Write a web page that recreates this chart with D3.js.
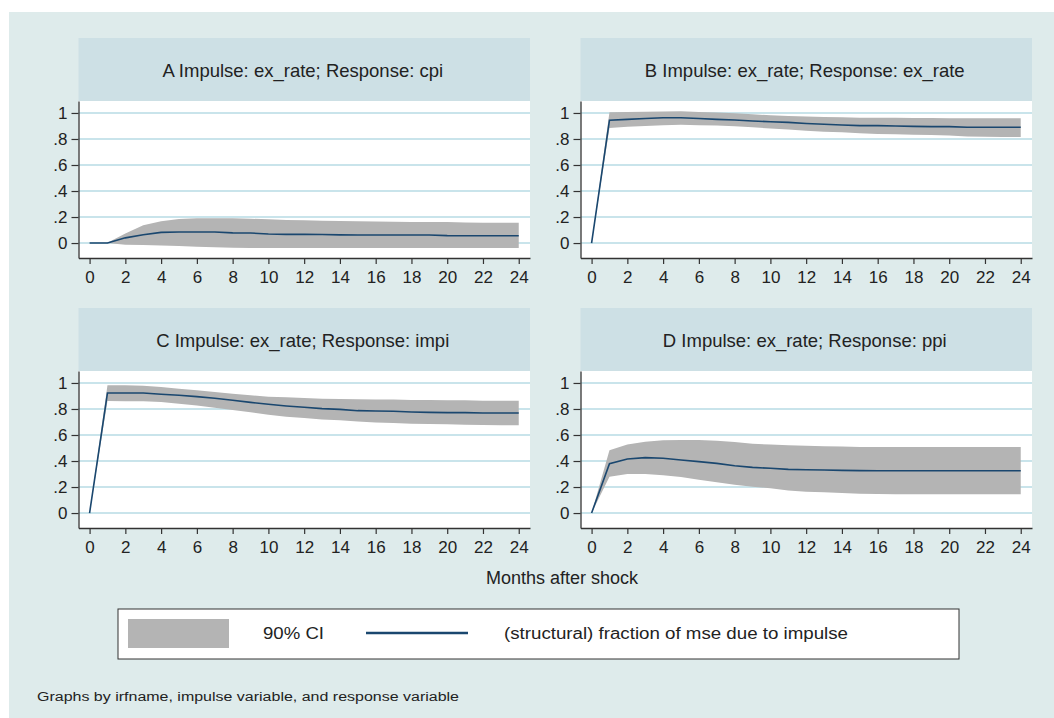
<!DOCTYPE html>
<html>
<head>
<meta charset="utf-8">
<script src="https://cdn.jsdelivr.net/npm/d3@7"></script>
<style>
  body { margin: 0; background: #fff; }
  svg { display: block; font-family: "Liberation Sans", Arial, Helvetica, sans-serif; }
</style>
</head>
<body>
<div id="chart"></div>
<script>
// Steps (months after shock)
const steps = [0, 1, 2, 3, 4, 5, 6, 7, 8, 9, 10, 11, 12, 13, 14, 15, 16, 17, 18, 19, 20, 21, 22, 23, 24];
const xTicks = [0, 2, 4, 6, 8, 10, 12, 14, 16, 18, 20, 22, 24];
const yTicks = [0, 0.2, 0.4, 0.6, 0.8, 1];
const yTickLabels = ['0', '.2', '.4', '.6', '.8', '1'];

// A: ex_rate -> cpi
const fracA = [0, 0, 0.040, 0.064, 0.082, 0.085, 0.085, 0.085, 0.078, 0.077, 0.070, 0.067, 0.067, 0.066, 0.063, 0.062, 0.062, 0.062, 0.062, 0.062, 0.057, 0.056, 0.056, 0.056, 0.056];
const hiA = [0, 0.002, 0.074, 0.136, 0.167, 0.185, 0.190, 0.190, 0.190, 0.187, 0.182, 0.178, 0.175, 0.172, 0.169, 0.167, 0.165, 0.163, 0.162, 0.162, 0.161, 0.157, 0.156, 0.156, 0.156];
const loA = [0, 0, -0.013, -0.015, -0.018, -0.023, -0.028, -0.033, -0.036, -0.038, -0.038, -0.038, -0.038, -0.038, -0.038, -0.038, -0.038, -0.038, -0.038, -0.038, -0.038, -0.038, -0.038, -0.038, -0.038];

// B: ex_rate -> ex_rate
const fracB = [0, 0.944, 0.951, 0.958, 0.963, 0.963, 0.957, 0.951, 0.946, 0.938, 0.933, 0.928, 0.919, 0.913, 0.908, 0.903, 0.903, 0.900, 0.897, 0.895, 0.895, 0.890, 0.890, 0.890, 0.890];
const hiB = [0, 1.005, 1.008, 1.010, 1.012, 1.013, 1.008, 1.003, 0.997, 0.990, 0.982, 0.977, 0.972, 0.969, 0.967, 0.964, 0.964, 0.964, 0.962, 0.962, 0.959, 0.959, 0.959, 0.959, 0.959];
const loB = [0, 0.885, 0.895, 0.900, 0.905, 0.910, 0.906, 0.903, 0.897, 0.890, 0.880, 0.872, 0.864, 0.856, 0.851, 0.844, 0.838, 0.836, 0.833, 0.831, 0.826, 0.820, 0.818, 0.816, 0.815];

// C: ex_rate -> impi
const fracC = [0, 0.923, 0.923, 0.923, 0.913, 0.905, 0.895, 0.882, 0.867, 0.851, 0.836, 0.823, 0.813, 0.803, 0.797, 0.787, 0.785, 0.782, 0.777, 0.774, 0.772, 0.772, 0.769, 0.769, 0.769];
const hiC = [0, 0.982, 0.982, 0.979, 0.969, 0.956, 0.944, 0.931, 0.918, 0.905, 0.895, 0.890, 0.885, 0.879, 0.877, 0.874, 0.872, 0.872, 0.869, 0.869, 0.867, 0.867, 0.864, 0.864, 0.864];
const loC = [0, 0.862, 0.859, 0.859, 0.854, 0.841, 0.826, 0.810, 0.792, 0.774, 0.756, 0.741, 0.731, 0.720, 0.713, 0.703, 0.697, 0.692, 0.687, 0.685, 0.682, 0.679, 0.677, 0.675, 0.674];

// D: ex_rate -> ppi
const fracD = [0, 0.379, 0.415, 0.426, 0.421, 0.408, 0.395, 0.382, 0.364, 0.351, 0.344, 0.336, 0.333, 0.331, 0.328, 0.326, 0.325, 0.325, 0.325, 0.325, 0.325, 0.325, 0.325, 0.325, 0.325];
const hiD = [0, 0.482, 0.526, 0.549, 0.559, 0.562, 0.562, 0.556, 0.546, 0.533, 0.526, 0.521, 0.518, 0.513, 0.511, 0.508, 0.508, 0.508, 0.508, 0.508, 0.508, 0.508, 0.508, 0.508, 0.508];
const loD = [0, 0.279, 0.300, 0.300, 0.290, 0.277, 0.256, 0.236, 0.218, 0.203, 0.190, 0.174, 0.164, 0.159, 0.154, 0.149, 0.146, 0.144, 0.144, 0.144, 0.144, 0.144, 0.144, 0.144, 0.144];

const titles = [
  'A Impulse: ex_rate; Response: cpi',
  'B Impulse: ex_rate; Response: ex_rate',
  'C Impulse: ex_rate; Response: impi',
  'D Impulse: ex_rate; Response: ppi'
];
const legendLabels = ['90% CI', '(structural) fraction of mse due to impulse'];
const xTitle = 'Months after shock';
const note = 'Graphs by irfname, impulse variable, and response variable';

// Colours
const bgColor = '#deebeb',
    headColor = '#cde0e5',
    gridColor = '#b7dbe4',
    bandColor = '#b4b4b4',
    lineColor = '#1a476f',
    axisColor = '#333333',
    textColor = '#222222';

const width = 1054, height = 718;

const svg = d3.select('#chart')
    .append('svg')
    .attr('width', width)
    .attr('height', height);

// Outer graph region
svg.append('rect')
    .attr('x', 9).attr('y', 12)
    .attr('width', width - 9).attr('height', height - 12)
    .attr('fill', bgColor);

// Panel layout
const panelW = 451.5, headH = 63, plotH = 157;
const panelPos = [
    {left: 78.5, top: 38},
    {left: 580.5, top: 38},
    {left: 78.5, top: 308},
    {left: 580.5, top: 308}
];
const series = [
    {frac: fracA, lo: loA, hi: hiA},
    {frac: fracB, lo: loB, hi: hiB},
    {frac: fracC, lo: loC, hi: hiC},
    {frac: fracD, lo: loD, hi: hiD}
];

series.forEach(function(s, i) {
    const pos = panelPos[i];
    const plotTop = pos.top + headH,
        plotBottom = plotTop + plotH,
        right = pos.left + panelW;

    const xScale = d3.scaleLinear()
        .domain([-0.62, 24.63])
        .range([pos.left, right]);

    const yScale = d3.scaleLinear()
        .domain([-0.115, 1.092])
        .range([plotBottom, plotTop]);

    const g = svg.append('g');

    // Header strip with title
    g.append('rect')
        .attr('x', pos.left).attr('y', pos.top)
        .attr('width', panelW).attr('height', headH)
        .attr('fill', headColor);

    g.append('text')
        .attr('x', pos.left + panelW / 2 - 1.5)
        .attr('y', pos.top + 39)
        .attr('text-anchor', 'middle')
        .attr('font-size', '18.5px')
        .attr('fill', textColor)
        .text(titles[i]);

    // Plot region
    g.append('rect')
        .attr('x', pos.left).attr('y', plotTop)
        .attr('width', panelW).attr('height', plotH)
        .attr('fill', '#fff');

    // Gridlines
    g.selectAll('.grid')
        .data(yTicks)
        .enter()
        .append('line')
        .attr('x1', pos.left).attr('x2', right)
        .attr('y1', d => yScale(d)).attr('y2', d => yScale(d))
        .attr('stroke', gridColor)
        .attr('stroke-width', 1.5);

    const pts = steps.map((st, k) => ({step: st, frac: s.frac[k], lo: s.lo[k], hi: s.hi[k]}));

    // Confidence band
    const area = d3.area()
        .x(d => xScale(d.step))
        .y0(d => yScale(d.lo))
        .y1(d => yScale(d.hi));

    g.append('path')
        .attr('d', area(pts))
        .attr('fill', bandColor);

    // Fraction of MSE line
    const line = d3.line()
        .x(d => xScale(d.step))
        .y(d => yScale(d.frac));

    g.append('path')
        .attr('d', line(pts))
        .attr('fill', 'none')
        .attr('stroke', lineColor)
        .attr('stroke-width', 1.6);

    // Axes
    const yAxis = g.append('g')
        .attr('transform', `translate(${pos.left},0)`)
        .call(d3.axisLeft(yScale)
            .tickValues(yTicks)
            .tickFormat((d, k) => yTickLabels[k])
            .tickSize(7)
            .tickSizeOuter(0)
            .tickPadding(4));

    const xAxis = g.append('g')
        .attr('transform', `translate(0,${plotBottom})`)
        .call(d3.axisBottom(xScale)
            .tickValues(xTicks)
            .tickSize(6)
            .tickSizeOuter(0)
            .tickPadding(7));

    [yAxis, xAxis].forEach(function(ax) {
        ax.select('.domain').attr('stroke', axisColor).attr('stroke-width', 1.3);
        ax.selectAll('.tick line').attr('stroke', axisColor).attr('stroke-width', 1.2);
        ax.selectAll('.tick text')
            .attr('fill', textColor)
            .style('font-size', '17px')
            .style('font-family', '"Liberation Sans", Arial, sans-serif');
    });
});

// Shared x title
svg.append('text')
    .attr('x', 562)
    .attr('y', 584)
    .attr('text-anchor', 'middle')
    .attr('font-size', '18px')
    .attr('fill', textColor)
    .text(xTitle);

// Legend
const legend = svg.append('g');
legend.append('rect')
    .attr('x', 118).attr('y', 609)
    .attr('width', 841).attr('height', 50)
    .attr('fill', '#fff')
    .attr('stroke', axisColor)
    .attr('stroke-width', 1);

legend.append('rect')
    .attr('x', 128).attr('y', 619)
    .attr('width', 101).attr('height', 29)
    .attr('fill', bandColor);

legend.append('text')
    .attr('x', 263).attr('y', 639)
    .attr('font-size', '16px')
    .attr('textLength', 61)
    .attr('lengthAdjust', 'spacingAndGlyphs')
    .attr('fill', textColor)
    .text(legendLabels[0]);

legend.append('line')
    .attr('x1', 366).attr('x2', 468)
    .attr('y1', 633).attr('y2', 633)
    .attr('stroke', lineColor)
    .attr('stroke-width', 2.5);

legend.append('text')
    .attr('x', 504).attr('y', 639)
    .attr('font-size', '16px')
    .attr('textLength', 344)
    .attr('lengthAdjust', 'spacingAndGlyphs')
    .attr('fill', textColor)
    .text(legendLabels[1]);

// Note
svg.append('text')
    .attr('x', 37).attr('y', 701)
    .attr('font-size', '12.5px')
    .attr('textLength', 422)
    .attr('lengthAdjust', 'spacingAndGlyphs')
    .attr('fill', textColor)
    .text(note);
</script>
</body>
</html>
